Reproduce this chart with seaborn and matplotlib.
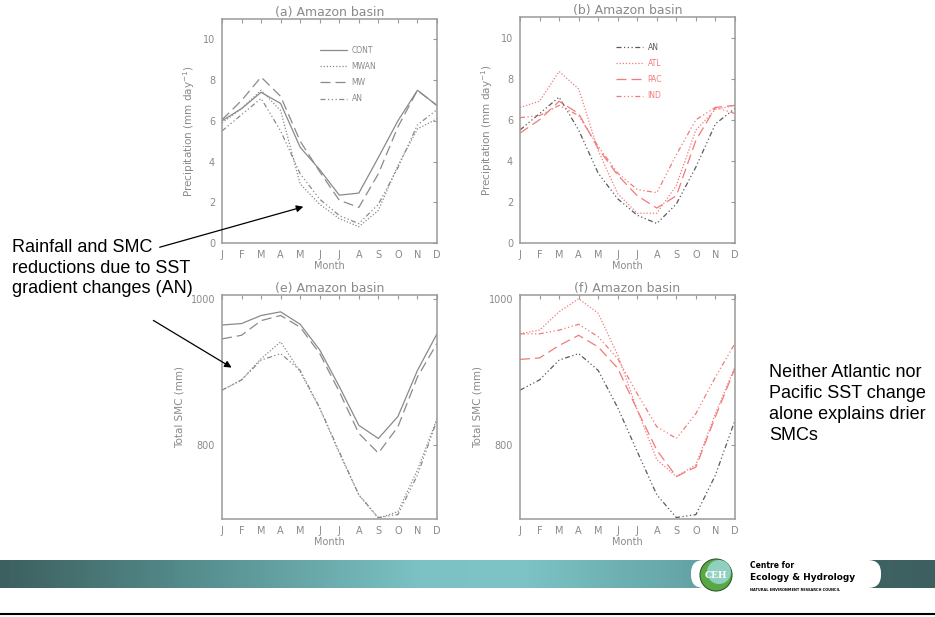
import numpy as np
import pandas as pd
import matplotlib
matplotlib.use("Agg")
import matplotlib.pyplot as plt
import seaborn as sns
from matplotlib.lines import Line2D
from matplotlib.patches import FancyArrowPatch, Circle, Wedge, FancyBboxPatch
from matplotlib.colors import LinearSegmentedColormap

# Dados (mes a mes, J..D)
meses = ["J", "F", "M", "A", "M", "J", "J", "A", "S", "O", "N", "D"]

# (a) precipitacao (mm/dia)
prec_cont = [6.0, 6.6, 7.4, 6.85, 4.7, 3.6, 2.35, 2.45, 4.2, 6.0, 7.5, 6.75]
prec_mwan = [5.9, 6.6, 7.5, 6.5, 2.9, 1.9, 1.2, 0.8, 1.6, 3.8, 5.6, 6.1]
prec_mw = [6.05, 7.0, 8.15, 7.2, 5.0, 3.5, 2.1, 1.75, 3.4, 5.7, 7.5, 6.75]
prec_an = [5.5, 6.3, 7.1, 5.5, 3.4, 2.15, 1.35, 0.95, 1.9, 3.7, 5.8, 6.55]

# (b) precipitacao - experimentos por oceano
prec_atl = [6.6, 6.9, 8.35, 7.5, 4.5, 2.4, 1.45, 1.45, 2.8, 5.5, 6.5, 6.7]
prec_pac = [5.35, 6.0, 6.9, 6.3, 4.6, 3.3, 2.3, 1.7, 2.3, 5.0, 6.6, 6.7]
prec_ind = [6.1, 6.2, 6.7, 6.2, 4.7, 3.4, 2.6, 2.45, 4.3, 6.0, 6.6, 6.3]

# (e) umidade total do solo (mm)
smc_cont = [964, 966, 977, 982, 965, 930, 880, 827, 809, 839, 902, 952]
smc_mw = [945, 950, 970, 977, 961, 925, 873, 816, 789, 825, 893, 939]
smc_mwan = [875, 889, 918, 941, 900, 850, 789, 732, 700, 709, 766, 836]
smc_an = [875, 889, 916, 925, 902, 851, 791, 732, 701, 705, 759, 834]

# (f) umidade total do solo - experimentos por oceano
smc_atl = [952, 957, 982, 1000, 980, 923, 848, 780, 757, 773, 843, 907]
smc_pac = [917, 919, 936, 950, 934, 905, 848, 793, 757, 770, 839, 905]
smc_ind = [952, 952, 957, 965, 948, 918, 870, 825, 809, 843, 893, 939]

CINZA = "#8a8a8a"
CINZA_ESC = "#5a5a5a"
VERMELHO = "#f27a7a"
EIXO = "#9a9a9a"

estilos = {
    "CONT": dict(linestyle="-"),
    "MWAN": dict(dashes=(1, 1.5)),
    "MW": dict(dashes=(8, 4)),
    "AN": dict(dashes=(4, 2, 1, 2, 1, 2, 1, 2)),
    "ATL": dict(dashes=(1, 1.5)),
    "PAC": dict(dashes=(8, 4)),
    "IND": dict(dashes=(4, 2, 1, 2, 1, 2, 1, 2)),
}

sns.set_theme(style="white")
plt.rcParams["font.family"] = ["DejaVu Sans"]

fig = plt.figure(figsize=(9.35, 6.17), dpi=100)
W, H = 935, 617


def ax_px(x0, y0, x1, y1):
    return fig.add_axes([x0 / W, 1 - y1 / H, (x1 - x0) / W, (y1 - y0) / H])


def desenha(ax, series, ylim, yticks, titulo, ylabel, legenda=None, leg_pos=None):
    x = np.arange(12)
    for nome, vals, cor in series:
        df = pd.DataFrame({"mes": x, "v": vals})
        sns.lineplot(data=df, x="mes", y="v", ax=ax, color=cor, lw=0.9, **estilos[nome])
    ax.set_xlim(0, 11)
    ax.set_ylim(*ylim)
    ax.set_xticks(x)
    ax.set_xticklabels(meses)
    ax.set_yticks(yticks)
    ax.tick_params(direction="in", top=True, right=True, length=3, width=0.8,
                   color=EIXO, labelcolor=CINZA, labelsize=7, pad=5)
    for s in ax.spines.values():
        s.set_color(EIXO)
        s.set_linewidth(1.1)
    ax.set_title(titulo, fontsize=9, color=CINZA, pad=2)
    ax.set_xlabel("Month", fontsize=7, color=CINZA, labelpad=1)
    ax.set_ylabel(ylabel, fontsize=7.5, color=CINZA, labelpad=4)
    if legenda:
        handles = [Line2D([], [], color=c, lw=0.9, **estilos[n]) for n, c in legenda]
        leg = ax.legend(handles, [n for n, _ in legenda], loc="upper left",
                        bbox_to_anchor=leg_pos, frameon=False,
                        fontsize=5.5, handlelength=3.6, labelspacing=0.95,
                        handletextpad=0.6, borderaxespad=0)
        for t, (_, c) in zip(leg.get_texts(), legenda):
            t.set_color(c)


ax_a = ax_px(222, 19, 437, 243)
ax_b = ax_px(520, 17, 735, 243)
ax_e = ax_px(222, 295, 437, 519)
ax_f = ax_px(520, 295, 735, 519)

ylab_p = "Precipitation (mm day$^{-1}$)"
desenha(ax_a, [("CONT", prec_cont, CINZA), ("MWAN", prec_mwan, CINZA),
               ("MW", prec_mw, CINZA), ("AN", prec_an, CINZA)],
        (0, 11), range(0, 11, 2), "(a) Amazon basin", ylab_p,
        [("CONT", CINZA), ("MWAN", CINZA), ("MW", CINZA), ("AN", CINZA)], (0.44, 0.895))
desenha(ax_b, [("AN", prec_an, CINZA_ESC), ("ATL", prec_atl, VERMELHO),
               ("PAC", prec_pac, VERMELHO), ("IND", prec_ind, VERMELHO)],
        (0, 11), range(0, 11, 2), "(b) Amazon basin", ylab_p,
        [("AN", CINZA_ESC), ("ATL", VERMELHO), ("PAC", VERMELHO), ("IND", VERMELHO)],
        (0.43, 0.9))
desenha(ax_e, [("CONT", smc_cont, CINZA), ("MWAN", smc_mwan, CINZA),
               ("MW", smc_mw, CINZA), ("AN", smc_an, CINZA)],
        (699, 1005), [800, 1000], "(e) Amazon basin", "Total SMC (mm)")
desenha(ax_f, [("AN", smc_an, CINZA_ESC), ("ATL", smc_atl, VERMELHO),
               ("PAC", smc_pac, VERMELHO), ("IND", smc_ind, VERMELHO)],
        (699, 1005), [800, 1000], "(f) Amazon basin", "Total SMC (mm)")

# textos de anotacao
fonte_txt = ["Liberation Sans", "DejaVu Sans"]
fig.text(12 / W, 1 - 239 / H, "Rainfall and SMC\nreductions due to SST\ngradient changes (AN)",
         fontsize=13, family=fonte_txt, va="top", ha="left", linespacing=1.28, color="black")
fig.text(769 / W, 1 - 364 / H, "Neither Atlantic nor\nPacific SST change\nalone explains drier\nSMCs",
         fontsize=13, family=fonte_txt, va="top", ha="left", linespacing=1.3, color="black")


def seta(x0, y0, x1, y1):
    fig.add_artist(FancyArrowPatch((x0 / W, 1 - y0 / H), (x1 / W, 1 - y1 / H),
                                   transform=fig.transFigure, arrowstyle="-|>",
                                   mutation_scale=10, lw=0.9, color="black"))


seta(157, 248, 306, 206)
seta(151, 319, 234, 369)

# faixa inferior com degrade
cmap = LinearSegmentedColormap.from_list("faixa", [
    (0.0, "#3d5f5f"), (0.2, "#558c8c"), (0.45, "#7cc2c4"), (0.55, "#7ec4c6"),
    (0.73, "#66a6a8"), (0.94, "#3f6262"), (1.0, "#3d5f5f")])
ax_faixa = fig.add_axes([0, 1 - 588 / H, 1, 28 / H])
ax_faixa.imshow(np.linspace(0, 1, 400)[None, :], aspect="auto", cmap=cmap,
                extent=(0, W, 0, 1))
ax_faixa.set_axis_off()

# logo CEH
ax_logo = fig.add_axes([0, 0, 1, 1], facecolor="none")
ax_logo.set_xlim(0, W)
ax_logo.set_ylim(H, 0)
ax_logo.set_axis_off()
ax_logo.add_patch(FancyBboxPatch((691, 560), 190, 28, boxstyle="round,pad=0,rounding_size=13",
                                 fc="white", ec="none"))
ax_logo.add_patch(Circle((716, 575), 16, fc="#5aa845", ec="#2f5a2a", lw=0.8))
ax_logo.add_patch(Wedge((719, 572), 12, 0, 360, fc="#8fd0c0", ec="none"))
ax_logo.text(716, 576, "CEH", color="white", fontsize=6.5, fontweight="bold",
             ha="center", va="center", family="DejaVu Serif")
ax_logo.text(750, 566, "Centre for", fontsize=5.5, fontweight="bold", va="center", color="black")
ax_logo.text(750, 577, "Ecology & Hydrology", fontsize=6.5, fontweight="bold", va="center",
             color="black")
ax_logo.text(750, 590, "NATURAL ENVIRONMENT RESEARCH COUNCIL", fontsize=2.5,
             fontweight="bold", va="center", color="black")
ax_logo.plot([0, W], [614, 614], color="black", lw=1.5)

fig.savefig("out.png", dpi=100)
